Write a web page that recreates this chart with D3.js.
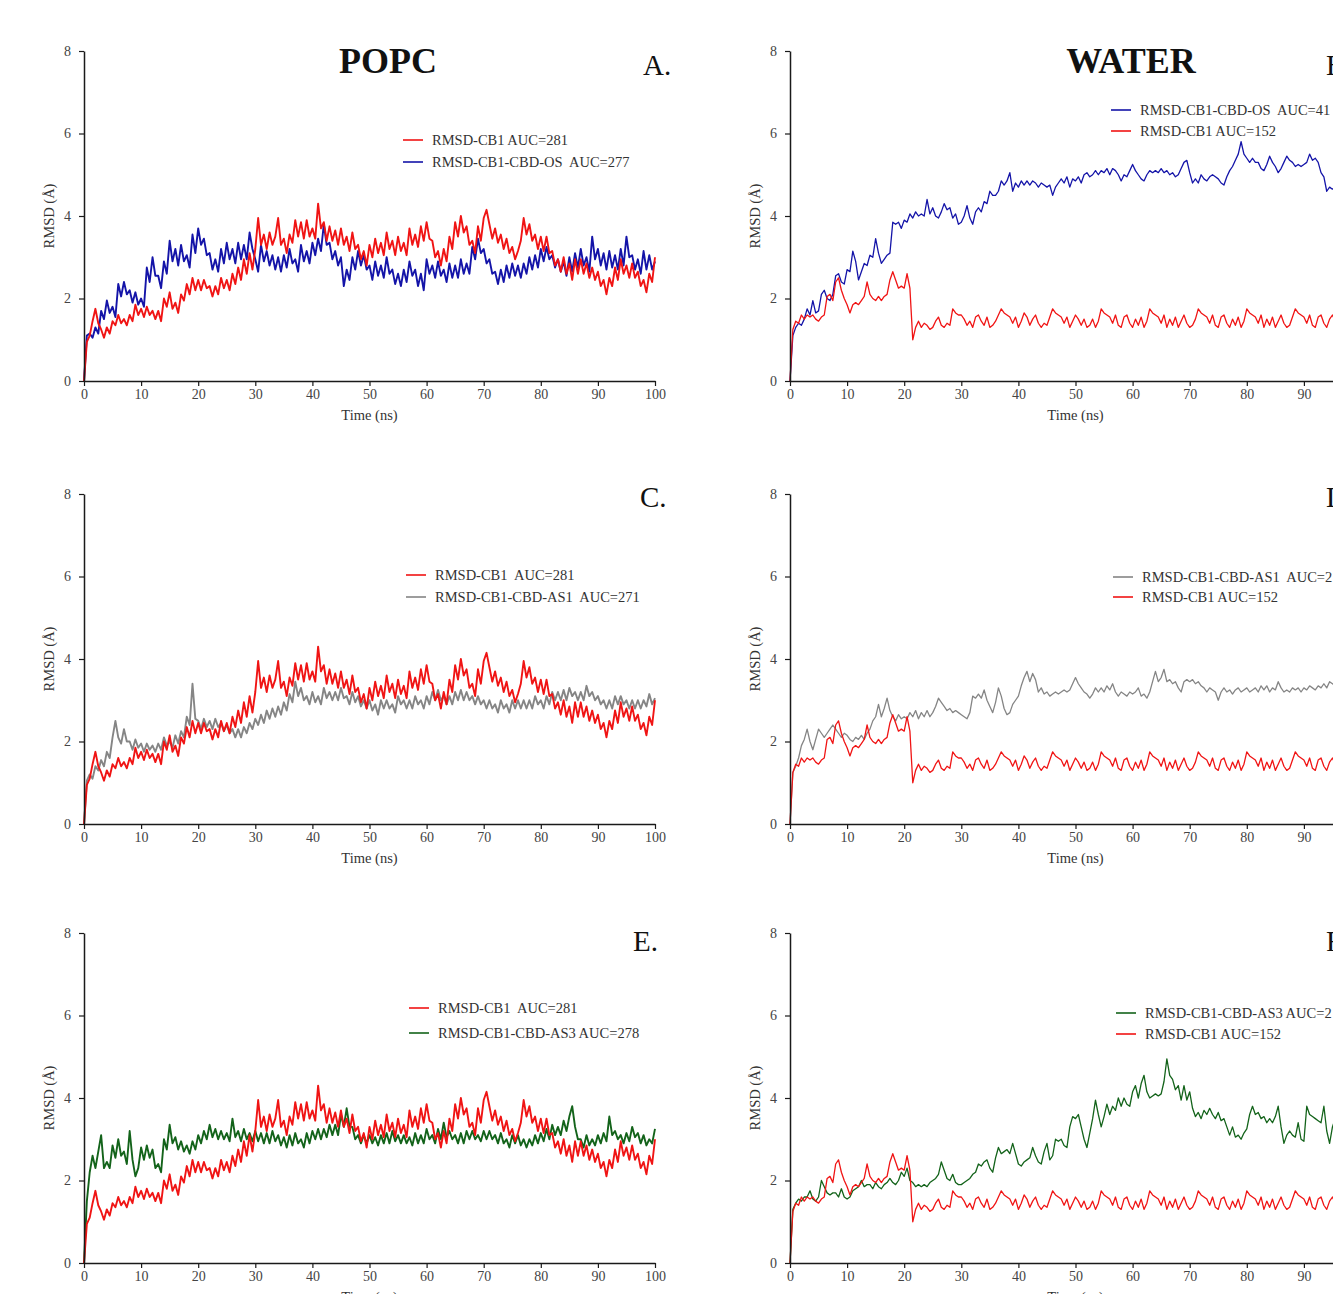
<!DOCTYPE html>
<html><head><meta charset="utf-8">
<script src="https://cdn.jsdelivr.net/npm/d3@7"></script>
<style>
body{margin:0;background:#fff;overflow:hidden}
svg{display:block}
text{font-family:"Liberation Serif","Times New Roman",serif}
</style>
</head><body>
<svg id="chart" width="1333" height="1294"></svg>
<script>
// time step between samples (ns)
const timeStep = 0.5;

// POPC membrane simulations (RMSD, Å), samples every 0.5 ns from 0 to 100 ns
const popcCB1 = [
 0.0,0.95,1.1,1.45,1.75,1.4,1.25,1.05,1.3,1.15, 1.45,1.35,1.6,1.4,1.5,1.35,1.6,1.45,1.85,1.6,
 1.75,1.55,1.8,1.6,1.7,1.5,1.7,1.45,2.0,1.8, 2.15,1.75,1.9,1.65,2.1,1.95,2.35,2.1,2.5,2.2,
 2.45,2.2,2.45,2.25,2.3,2.05,2.3,2.1,2.5,2.25, 2.45,2.2,2.6,2.35,2.75,2.45,2.95,2.6,3.1,2.7,
 3.2,3.95,3.3,3.55,3.2,3.6,3.3,3.5,3.95,3.3, 3.45,3.1,3.55,3.35,3.9,3.5,3.85,3.45,3.9,3.5,
 3.7,3.45,4.3,3.7,3.85,3.4,3.75,3.4,3.65,3.3, 3.7,3.3,3.5,3.15,3.6,3.2,3.3,2.95,3.15,2.8,
 3.3,3.0,3.45,3.1,3.35,3.05,3.6,3.2,3.4,3.05, 3.5,3.15,3.35,3.05,3.7,3.3,3.55,3.25,3.75,3.4,
 3.85,3.45,3.4,3.0,3.15,2.8,3.2,2.9,3.5,3.2, 3.85,3.5,4.0,3.6,3.75,3.3,3.4,3.1,3.75,3.4,
 3.95,4.15,3.8,3.45,3.7,3.35,3.55,3.2,3.45,3.1, 3.25,2.95,3.15,3.4,3.95,3.55,3.8,3.4,3.55,3.2,
 3.5,3.15,3.5,3.1,3.15,2.8,2.95,2.65,3.0,2.6, 2.85,2.45,2.95,2.6,2.95,2.6,2.85,2.5,2.75,2.45,
 2.65,2.3,2.45,2.1,2.5,2.3,2.75,2.45,2.95,2.6, 2.8,2.5,2.85,2.5,2.65,2.3,2.45,2.15,2.6,2.4, 3.0];

const popcOS = [
 0.0,1.1,1.15,1.05,1.3,1.15,1.7,1.5,1.95,1.65, 1.8,1.55,2.35,2.05,2.4,2.1,2.2,1.9,2.15,1.85,
 2.0,1.8,2.75,2.4,3.0,2.55,2.55,2.25,2.9,2.6, 3.4,2.9,3.2,2.8,3.3,2.9,3.05,2.75,3.55,3.1,
 3.7,3.3,3.45,3.05,3.1,2.7,2.95,2.65,3.2,2.85, 3.35,2.95,3.2,2.85,3.35,2.95,3.3,2.95,3.6,3.2,
 2.95,2.65,3.3,2.9,3.15,2.8,3.05,2.7,3.0,2.65, 3.05,2.75,3.2,2.85,2.95,2.65,3.3,2.9,3.15,2.85,
 3.35,3.05,3.45,3.15,3.8,3.3,3.35,2.95,3.15,2.8, 3.0,2.3,2.7,2.45,3.0,2.7,3.15,2.8,3.05,2.7,
 2.8,2.45,2.9,2.55,2.8,2.5,3.0,2.6,2.7,2.35, 2.6,2.3,2.7,2.4,2.9,2.55,2.7,2.3,2.6,2.2,
 2.95,2.6,2.8,2.5,2.9,2.55,2.7,2.4,2.85,2.5, 2.8,2.5,2.95,2.6,2.85,2.6,3.25,2.95,3.45,3.1,
 3.2,2.85,2.95,2.6,2.65,2.35,2.7,2.4,2.8,2.5, 2.85,2.55,2.8,2.5,2.85,2.6,3.0,2.7,3.05,2.75,
 3.2,2.9,3.25,2.95,3.05,2.75,2.95,2.65,2.9,2.55, 3.0,2.65,3.1,2.75,3.2,2.8,3.0,2.65,3.5,2.95,
 3.2,2.8,3.1,2.7,3.15,2.75,3.05,2.7,3.2,2.8, 3.5,3.0,3.05,2.7,2.95,2.6,3.15,2.7,3.05,2.7, 2.9];

const popcAS1 = [
 0.0,1.05,1.2,1.1,1.4,1.3,1.55,1.4,1.75,1.6, 2.1,2.5,2.1,1.95,2.3,2.0,2.0,1.8,2.05,1.85,
 1.95,1.75,1.95,1.8,1.9,1.75,1.95,1.8,2.1,1.9, 2.0,1.85,2.15,1.95,2.25,2.1,2.6,2.4,3.4,2.55,
 2.5,2.3,2.55,2.35,2.5,2.3,2.55,2.35,2.45,2.25, 2.4,2.2,2.3,2.1,2.3,2.1,2.35,2.2,2.45,2.3,
 2.55,2.4,2.65,2.45,2.75,2.55,2.8,2.6,2.85,2.65, 2.95,2.75,3.15,2.95,3.45,3.1,3.3,3.0,3.1,2.9,
 3.2,2.95,3.1,2.9,3.3,3.05,3.2,3.0,3.2,3.0, 3.3,3.05,3.1,2.9,3.2,2.95,3.1,2.85,3.0,2.8,
 3.0,2.75,2.9,2.65,3.0,2.8,3.0,2.8,2.9,2.7, 3.1,2.9,3.0,2.8,3.0,2.8,3.1,2.9,3.0,2.8,
 3.1,2.9,3.2,3.0,3.25,3.0,3.1,2.9,3.1,2.9, 3.2,3.0,3.25,3.0,3.2,3.0,3.1,2.9,3.1,2.9,
 3.0,2.8,3.0,2.8,2.9,2.7,3.0,2.8,2.9,2.7, 3.0,2.8,3.0,2.8,3.0,2.8,3.0,2.8,3.1,2.9,
 3.0,2.8,3.1,2.9,3.2,3.0,3.2,3.0,3.25,3.0, 3.3,3.1,3.2,3.0,3.2,3.0,3.35,3.1,3.2,3.0,
 3.1,2.9,3.0,2.8,3.0,2.8,3.1,2.9,3.1,2.9, 3.0,2.8,3.0,2.8,3.0,2.8,3.0,2.85,3.15,2.9, 3.05];

const popcAS3 = [
 0.0,1.5,2.2,2.6,2.3,2.7,3.1,2.3,2.45,2.3, 2.85,2.55,3.0,2.6,2.7,2.4,3.2,2.5,2.1,2.3,
 2.8,2.5,2.85,2.55,2.75,2.3,2.4,2.2,3.0,2.75, 3.35,2.9,3.05,2.75,2.95,2.7,2.85,2.65,2.95,2.75,
 3.1,2.9,3.2,3.0,3.35,3.05,3.25,3.0,3.2,3.0, 3.15,2.95,3.5,3.05,3.2,2.95,3.25,3.0,3.15,2.95,
 3.2,2.95,3.15,2.9,3.15,2.9,3.2,2.95,3.1,2.85, 3.05,2.8,3.1,2.85,3.15,2.9,3.0,2.8,3.15,2.9,
 3.2,3.0,3.25,3.0,3.25,3.05,3.35,3.1,3.35,3.1, 3.6,3.3,3.75,3.3,3.3,3.0,3.1,2.9,3.1,2.9,
 3.1,2.9,3.05,2.85,3.1,2.9,3.15,2.9,3.2,2.95, 3.1,2.9,3.1,2.9,3.05,2.85,3.15,2.9,3.1,2.9,
 3.25,3.0,3.1,2.9,3.25,3.0,3.4,3.05,3.2,3.0, 3.1,2.9,3.15,2.9,3.2,3.0,3.2,3.0,3.1,2.95,
 3.2,3.0,3.2,3.0,3.1,2.9,3.15,2.9,3.0,2.8, 3.1,2.9,3.1,2.85,3.0,2.8,3.0,2.85,3.1,2.9,
 3.15,2.95,3.25,3.0,3.35,3.1,3.3,3.1,3.45,3.2, 3.55,3.8,3.3,3.0,3.0,2.8,3.1,2.85,3.0,2.85,
 3.1,2.9,3.15,2.95,3.55,3.1,3.2,3.0,3.1,2.9, 3.15,2.95,3.3,3.05,3.15,2.9,3.1,2.85,3.0,2.9, 3.25];

// Water simulations (RMSD, Å), samples every 0.5 ns from 0 to 100 ns
const waterCB1 = [
 0.0,1.25,1.45,1.4,1.6,1.5,1.6,1.55,1.6,1.5, 1.45,1.55,1.6,2.05,2.1,1.95,2.4,2.5,2.2,2.0,
 1.85,1.65,1.85,1.9,1.85,1.95,2.05,2.4,2.1,2.0, 1.95,2.05,1.95,2.05,2.1,2.45,2.65,2.45,2.25,2.3,
 2.25,2.6,2.25,1.0,1.3,1.45,1.3,1.4,1.35,1.25, 1.3,1.45,1.55,1.35,1.3,1.4,1.35,1.75,1.65,1.6,
 1.6,1.5,1.35,1.45,1.3,1.55,1.6,1.45,1.35,1.55, 1.3,1.35,1.45,1.6,1.75,1.65,1.6,1.55,1.4,1.55,
 1.3,1.45,1.65,1.55,1.35,1.5,1.6,1.4,1.3,1.4, 1.35,1.55,1.75,1.65,1.6,1.55,1.4,1.55,1.3,1.45,
 1.6,1.5,1.35,1.5,1.3,1.35,1.5,1.3,1.45,1.75, 1.65,1.6,1.55,1.4,1.6,1.35,1.3,1.55,1.6,1.4,
 1.3,1.5,1.35,1.55,1.3,1.45,1.75,1.65,1.6,1.55, 1.4,1.6,1.3,1.5,1.35,1.55,1.3,1.45,1.6,1.4,
 1.3,1.35,1.5,1.75,1.65,1.6,1.55,1.4,1.6,1.35, 1.3,1.55,1.6,1.4,1.3,1.5,1.35,1.55,1.3,1.45,
 1.75,1.65,1.6,1.55,1.4,1.6,1.3,1.5,1.35,1.55, 1.3,1.45,1.6,1.4,1.3,1.35,1.55,1.75,1.65,1.6,
 1.55,1.4,1.6,1.35,1.3,1.55,1.6,1.4,1.3,1.5, 1.6,1.45,1.7,1.6,1.5,1.4,1.55,1.35,1.5,1.4, 1.5];

const waterOS = [
 0.0,1.1,1.3,1.4,1.35,1.5,1.75,1.6,1.95,1.65, 1.7,2.1,2.2,2.0,1.95,2.1,2.55,2.6,2.4,2.35,
 2.7,2.65,3.15,2.9,2.45,2.65,2.85,2.8,3.05,3.0, 3.45,3.1,2.85,2.95,3.05,3.1,3.85,3.8,3.85,3.7,
 3.9,3.85,4.05,3.95,4.1,4.0,4.05,4.0,4.4,4.05, 4.2,4.0,3.95,4.1,4.3,4.15,4.2,3.95,4.05,3.8,
 3.85,4.0,4.25,3.95,3.8,4.1,4.2,4.1,4.35,4.3, 4.6,4.5,4.5,4.6,4.85,4.75,4.85,5.05,4.6,4.8,
 4.7,4.85,4.75,4.85,4.75,4.85,4.8,4.7,4.8,4.75, 4.7,4.75,4.5,4.7,4.8,4.9,4.8,4.95,4.7,4.9,
 4.85,4.95,4.8,5.0,5.05,4.95,5.0,5.1,5.0,5.1, 5.05,5.15,5.0,5.15,5.1,5.0,4.85,5.0,4.95,5.1,
 5.25,5.1,5.0,4.9,4.85,5.0,5.1,5.05,5.1,5.05, 5.15,5.05,5.1,5.0,5.05,4.95,5.0,5.15,5.3,5.35,
 5.05,4.8,4.9,4.8,5.0,4.9,4.85,4.95,5.0,4.95, 4.9,4.8,4.75,4.95,5.1,5.2,5.35,5.5,5.8,5.5,
 5.4,5.3,5.4,5.3,5.3,5.15,5.1,5.25,5.45,5.3, 5.2,5.05,5.15,5.3,5.45,5.35,5.3,5.2,5.25,5.2,
 5.25,5.3,5.5,5.35,5.4,5.3,5.05,4.95,4.6,4.7, 4.65,4.7,4.8,4.7,4.75,4.8,4.7,4.8,4.75,4.8, 4.8];

const waterAS1 = [
 0.0,1.25,1.4,1.6,1.9,2.05,2.3,2.0,1.8,2.05, 2.3,2.2,2.1,2.2,2.3,2.4,2.3,2.2,2.1,2.2,
 2.15,2.05,2.0,2.1,2.05,2.15,2.05,2.2,2.3,2.5, 2.6,2.9,2.6,2.8,3.05,2.75,2.6,2.5,2.65,2.55,
 2.6,2.55,2.7,2.6,2.75,2.55,2.7,2.6,2.75,2.6, 2.7,2.85,3.05,2.95,2.85,2.75,2.8,2.7,2.75,2.7,
 2.65,2.6,2.55,2.7,3.1,3.05,3.15,3.05,3.25,3.0, 2.85,2.7,2.95,3.3,3.1,2.8,2.65,2.7,2.9,3.0,
 3.1,3.35,3.55,3.7,3.45,3.65,3.5,3.2,3.3,3.15, 3.2,3.1,3.15,3.2,3.15,3.2,3.25,3.2,3.25,3.4,
 3.55,3.4,3.3,3.2,3.15,3.05,3.15,3.3,3.2,3.3, 3.2,3.35,3.25,3.4,3.2,3.1,3.2,3.15,3.1,3.2,
 3.15,3.2,3.3,3.1,3.15,3.05,3.2,3.45,3.7,3.45, 3.55,3.75,3.45,3.5,3.4,3.45,3.3,3.2,3.45,3.5,
 3.45,3.5,3.4,3.45,3.35,3.3,3.2,3.3,3.25,3.2, 3.0,3.2,3.3,3.2,3.25,3.15,3.25,3.3,3.2,3.25,
 3.3,3.2,3.25,3.3,3.2,3.35,3.25,3.35,3.2,3.3, 3.25,3.45,3.3,3.2,3.25,3.2,3.3,3.25,3.3,3.2,
 3.3,3.25,3.35,3.3,3.25,3.35,3.3,3.4,3.3,3.45, 3.4,3.35,3.3,3.35,3.3,3.4,3.35,3.3,3.35,3.3, 3.3];

const waterAS3 = [
 0.0,1.3,1.45,1.55,1.5,1.6,1.6,1.75,1.55,1.5, 1.6,2.0,1.85,1.7,1.65,1.7,1.7,1.6,1.8,1.6,
 1.55,1.6,1.75,1.8,1.85,2.0,1.85,1.9,1.9,1.8, 1.95,1.85,1.8,1.9,1.95,2.05,1.95,1.9,2.0,2.2,
 2.1,2.3,2.0,1.95,1.85,1.9,1.85,1.9,1.85,1.95, 2.0,2.05,2.15,2.45,2.25,2.05,2.0,2.15,1.95,1.9,
 1.9,1.95,2.0,2.05,2.15,2.2,2.4,2.35,2.45,2.5, 2.3,2.2,2.55,2.8,2.65,2.7,2.75,2.65,2.9,2.65,
 2.4,2.35,2.45,2.5,2.55,2.8,2.6,2.45,2.4,2.7, 2.9,2.5,2.6,3.0,2.95,3.0,2.85,2.8,3.3,3.55,
 3.5,3.6,3.3,3.0,2.8,3.15,3.5,3.95,3.6,3.3, 3.55,3.85,3.6,3.8,3.7,4.0,3.8,4.0,3.85,3.8,
 4.15,4.3,4.0,4.35,4.55,4.15,4.0,4.05,4.1,4.05, 4.1,4.4,4.95,4.55,4.45,4.2,4.3,3.95,4.3,3.95,
 4.15,3.75,3.55,3.65,3.5,3.7,3.6,3.75,3.6,3.5, 3.65,3.45,3.5,3.3,3.1,3.3,3.05,3.1,3.0,3.15,
 3.25,3.6,3.8,3.6,3.65,3.5,3.55,3.4,3.5,3.4, 3.55,3.8,3.3,2.9,3.1,3.2,3.1,3.05,3.4,3.0,
 2.95,3.8,3.6,3.55,3.5,3.45,3.4,3.8,3.2,2.9, 3.3,3.5,3.4,3.3,3.4,3.3,3.4,3.3,3.35,3.3, 3.3];

// axes
const xTicks = [0,10,20,30,40,50,60,70,80,90,100];
const yTicks = [0,2,4,6,8];
const xDomain = [0,100];
const yDomain = [0,8];
const xTitle = "Time (ns)";
const yTitle = "RMSD (Å)";
const columnTitles = ["POPC","WATER"];

// legend labels
const labelsA = ["RMSD-CB1 AUC=281","RMSD-CB1-CBD-OS  AUC=277"];
const labelsB = ["RMSD-CB1-CBD-OS  AUC=41","RMSD-CB1 AUC=152"];
const labelsC = ["RMSD-CB1  AUC=281","RMSD-CB1-CBD-AS1  AUC=271"];
const labelsD = ["RMSD-CB1-CBD-AS1  AUC=2","RMSD-CB1 AUC=152"];
const labelsE = ["RMSD-CB1  AUC=281","RMSD-CB1-CBD-AS3 AUC=278"];
const labelsF = ["RMSD-CB1-CBD-AS3 AUC=2","RMSD-CB1 AUC=152"];

// ---------- drawing ----------
const W = 1333;
const C = {cb1:"#f01414", os:"#1414a8", as1:"#858585", as3:"#13631a"};
const colX = [84, 790], rowBase = [381, 824, 1263], plotW = 571, plotH = 330;

const panels = [
 {col:0,row:0,letter:"A.",lx:643,ly:75,
  draw:[[popcOS,C.os],[popcCB1,C.cb1]],
  legend:[[C.cb1,labelsA[0]],[C.os,labelsA[1]]], gx:403, gy:140, gdy:22},
 {col:1,row:0,letter:"B.",lx:1326,ly:75,
  draw:[[waterOS,C.os],[waterCB1,C.cb1]],
  legend:[[C.os,labelsB[0]],[C.cb1,labelsB[1]]], gx:1111, gy:110, gdy:21},
 {col:0,row:1,letter:"C.",lx:640,ly:507,
  draw:[[popcAS1,C.as1],[popcCB1,C.cb1]],
  legend:[[C.cb1,labelsC[0]],[C.as1,labelsC[1]]], gx:406, gy:575, gdy:22},
 {col:1,row:1,letter:"D.",lx:1326,ly:507,
  draw:[[waterAS1,C.as1],[waterCB1,C.cb1]],
  legend:[[C.as1,labelsD[0]],[C.cb1,labelsD[1]]], gx:1113, gy:577, gdy:20},
 {col:0,row:2,letter:"E.",lx:633,ly:951,
  draw:[[popcAS3,C.as3],[popcCB1,C.cb1]],
  legend:[[C.cb1,labelsE[0]],[C.as3,labelsE[1]]], gx:409, gy:1008, gdy:25},
 {col:1,row:2,letter:"F.",lx:1326,ly:951,
  draw:[[waterAS3,C.as3],[waterCB1,C.cb1]],
  legend:[[C.as3,labelsF[0]],[C.cb1,labelsF[1]]], gx:1116, gy:1013, gdy:21}
];

const svg = d3.select("#chart");

// column titles
svg.append("text").attr("x",388).attr("y",73).attr("text-anchor","middle")
  .attr("font-size",36).attr("font-weight","bold").attr("fill","#111").text(columnTitles[0]);
svg.append("text").attr("x",1131).attr("y",73).attr("text-anchor","middle")
  .attr("font-size",36).attr("font-weight","bold").attr("fill","#111").text(columnTitles[1]);

panels.forEach(p => {
  const x0 = colX[p.col], yb = rowBase[p.row];
  const x = d3.scaleLinear().domain(xDomain).range([x0, x0 + plotW]);
  const y = d3.scaleLinear().domain(yDomain).range([yb, yb - plotH]);
  const g = svg.append("g");

  // series lines
  const isWater = p.col === 1;
  p.draw.forEach(([data, color]) => {
    const line = d3.line().x((d,i) => x(i*timeStep)).y(d => y(d));
    g.append("path").datum(data).attr("d", line)
      .attr("fill","none").attr("stroke",color)
      .attr("stroke-width", isWater ? 1.3 : 1.9)
      .attr("stroke-linejoin","round");
  });

  // axes (only ticks that fall inside the page get a label)
  const visTicks = xTicks.filter(t => x(t) < W - 4);
  const xa = g.append("g").attr("transform",`translate(0,${yb})`)
    .call(d3.axisBottom(x).tickValues(visTicks).tickSize(5).tickSizeOuter(0).tickPadding(3));
  const ya = g.append("g").attr("transform",`translate(${x0},0)`)
    .call(d3.axisLeft(y).tickValues(yTicks).tickSize(5).tickSizeOuter(0).tickPadding(8));
  [xa, ya].forEach(a => {
    a.select(".domain").attr("stroke","#1a1a1a").attr("stroke-width",1.5);
    a.selectAll(".tick line").attr("stroke","#1a1a1a").attr("stroke-width",1.2);
    a.selectAll(".tick text").attr("font-family","Liberation Serif, Times New Roman, serif")
      .attr("font-size",14).attr("fill","#444");
  });

  // axis titles
  g.append("text").attr("transform",`translate(${x0-30},${yb-plotH/2}) rotate(-90)`)
    .attr("text-anchor","middle").attr("font-size",14.5).attr("fill","#333").text(yTitle);
  g.append("text").attr("x",x0+plotW/2).attr("y",yb+39)
    .attr("text-anchor","middle").attr("font-size",14.5).attr("fill","#333").text(xTitle);

  // panel letter
  g.append("text").attr("x",p.lx).attr("y",p.ly).attr("font-size",29).attr("fill","#111").text(p.letter);

  // legend
  p.legend.forEach(([color,label],i) => {
    const yy = p.gy + i*p.gdy;
    g.append("line").attr("x1",p.gx).attr("x2",p.gx+20).attr("y1",yy).attr("y2",yy)
      .attr("stroke",color).attr("stroke-width",1.6);
    g.append("text").attr("x",p.gx+29).attr("y",yy+5)
      .attr("font-size",14.5).attr("fill","#333").style("white-space","pre").text(label);
  });
});
</script>
</body></html>
